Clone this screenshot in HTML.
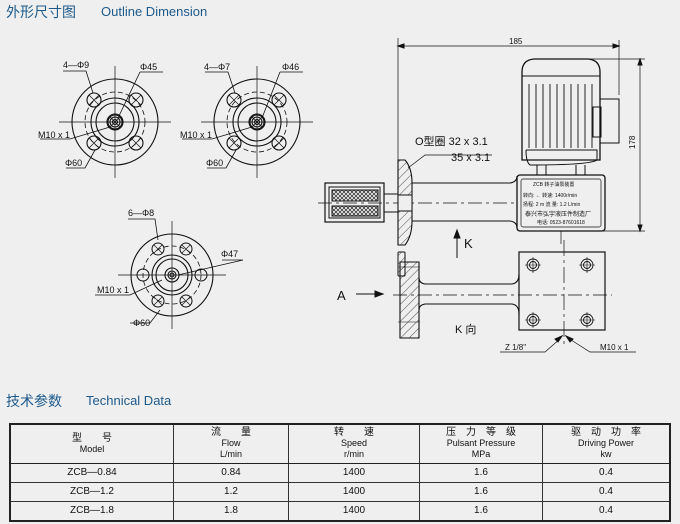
<!DOCTYPE html>
<html><head><meta charset="utf-8"><style>
html,body{margin:0;padding:0;background:#efefef;}
body{width:680px;height:524px;overflow:hidden;position:relative;font-family:"Liberation Sans","Noto Sans CJK SC",sans-serif;}
svg{position:absolute;left:0;top:0}
table{position:absolute;left:9px;top:423px;width:662px;border-collapse:collapse;font-size:10px;color:#111;text-align:center}
td{border:1px solid #333;padding:0;line-height:10px}
td.h{height:38px;border-bottom:1.5px solid #222}
tr.r td{height:18px}
table{border:2px solid #222}
</style></head><body>
<svg width="680" height="524" viewBox="0 0 680 524" font-family="Liberation Sans, Noto Sans CJK SC, sans-serif">
<defs>
<pattern id="hat" width="6" height="6" patternUnits="userSpaceOnUse" patternTransform="rotate(45)"><line x1="0" y1="0" x2="0" y2="6" stroke="#222" stroke-width="0.8"/></pattern>
<pattern id="mesh" width="4" height="4" patternUnits="userSpaceOnUse"><path d="M0 0L4 4M4 0L0 4" stroke="#222" stroke-width="0.7"/></pattern>
<g id="fl" fill="none" stroke="#111" stroke-width="1.1">
<circle r="43"/><circle r="30" stroke-dasharray="5,3" stroke-width="0.8"/>
<circle r="24"/><circle r="19"/><circle r="8"/><circle r="5"/><circle r="2.5"/>
<line x1="-56" y1="0" x2="56" y2="0" stroke-width="0.7"/><line x1="0" y1="-56" x2="0" y2="56" stroke-width="0.7"/>
<g id="h"><circle r="7"/><path d="M-5 -5L5 5M5 -5L-5 5" stroke-width="0.7"/></g>
</g>
</defs>
<text x="6" y="17" font-size="14" fill="#1d5a8c">外形尺寸图</text>
<text x="101" y="16" font-size="13" fill="#1d5a8c">Outline Dimension</text>
<text x="6" y="406" font-size="14" fill="#1d5a8c">技术参数</text>
<text x="86" y="405" font-size="13" fill="#1d5a8c">Technical Data</text>

<!-- flange 1 -->
<g transform="translate(115,122)">
<use href="#fl"/>
<g fill="none" stroke="#111" stroke-width="1.1">
<use href="#h" x="-21" y="-22"/><use href="#h" x="21" y="-22"/><use href="#h" x="-21" y="21"/><use href="#h" x="21" y="21"/></g>
</g>
<g fill="none" stroke="#111" stroke-width="0.8">
<path d="M63 71H86L93 93M140 72H163M140 72L118 118M40 139H70L110 127M66 168H85L95 150"/>
</g>
<g font-size="9" fill="#111"><text x="63" y="68">4—Φ9</text><text x="140" y="70">Φ45</text><text x="38" y="138">M10 x 1</text><text x="65" y="166">Φ60</text></g>

<!-- flange 2 -->
<g transform="translate(257,122)">
<use href="#fl"/>
<g fill="none" stroke="#111" stroke-width="1.1">
<use href="#h" x="-23" y="-22"/><use href="#h" x="22" y="-22"/><use href="#h" x="-23" y="21"/><use href="#h" x="22" y="21"/></g>
</g>
<g fill="none" stroke="#111" stroke-width="0.8">
<path d="M205 72H228L235 93M280 72H303M280 72L262 118M182 139H212L252 127M207 168H226L236 150"/>
</g>
<g font-size="9" fill="#111"><text x="204" y="70">4—Φ7</text><text x="282" y="70">Φ46</text><text x="180" y="138">M10 x 1</text><text x="206" y="166">Φ60</text></g>

<!-- flange 3 -->
<g transform="translate(172,275)" fill="none" stroke="#111" stroke-width="1.1">
<circle r="41"/><circle r="29" stroke-dasharray="5,3" stroke-width="0.8"/><circle r="20"/><circle r="16"/><circle r="7"/><circle r="4"/><circle r="2"/>
<line x1="-54" y1="0" x2="54" y2="0" stroke-width="0.7"/><line x1="0" y1="-54" x2="0" y2="54" stroke-width="0.7"/>
<g stroke-width="1"><circle cx="-29" cy="0" r="6"/><circle cx="29" cy="0" r="6"/><circle cx="-14" cy="-26" r="6"/><circle cx="14" cy="-26" r="6"/><circle cx="-14" cy="26" r="6"/><circle cx="14" cy="26" r="6"/>
<path d="M-18 -30L-10 -22M-10 -30L-18 -22M10 -30L18 -22M18 -30L10 -22M-18 22L-10 30M-10 22L-18 30M10 22L18 30M18 22L10 30" stroke-width="0.7"/></g>
</g>
<g fill="none" stroke="#111" stroke-width="0.8"><path d="M128 219H155L158 240M222 260H243L178 275M95 295H130L162 280M130 323H150L160 310"/></g>
<g font-size="9" fill="#111"><text x="128" y="216">6—Φ8</text><text x="221" y="257">Φ47</text><text x="97" y="293">M10 x 1</text><text x="133" y="326">Φ60</text></g>

<!-- main side view -->
<g fill="none" stroke="#111" stroke-width="1">
<line x1="398" y1="38" x2="398" y2="165" stroke-width="0.7"/>
<line x1="619" y1="40" x2="619" y2="95" stroke-width="0.7"/>
<line x1="398" y1="46" x2="619" y2="46" stroke-width="0.7"/>
<path d="M398 46l6 -2v4zM619 46l-6 -2v4z" fill="#111"/>
<line x1="575" y1="59" x2="645" y2="59" stroke-width="0.7"/>
<line x1="600" y1="231" x2="645" y2="231" stroke-width="0.7"/>
<line x1="640" y1="59" x2="640" y2="231" stroke-width="0.7"/>
<path d="M640 59l-2 6h4zM640 231l-2 -6h4z" fill="#111"/>
<!-- motor -->
<path d="M522 160V72Q522 60 534 59H588Q600 60 600 72V160Z" stroke-width="1.3"/>
<line x1="522" y1="76" x2="600" y2="76"/>
<g stroke-width="0.9"><path d="M529 84V148M536 84V148M543 84V148M550 84V148M557 84V148M564 84V148M571 84V148M578 84V148M585 84V148M592 84V148"/></g>
<path d="M526 150H597V160Q590 165 530 165Q526 162 526 150"/>
<rect x="600" y="99" width="19" height="44"/><rect x="593" y="107" width="8" height="30"/>
<path d="M537 165V175M585 165V175M546 165V175M576 165V175"/>
<!-- nameplate -->
<rect x="517" y="175" width="88" height="56" rx="3" stroke-width="1.3"/>
<rect x="521" y="179" width="80" height="48" rx="2" stroke-width="0.7"/>
<!-- pipe -->
<path d="M412 183H510Q517 182 517 176M412 221H510Q517 222 517 228" stroke-width="1.1"/>
<line x1="318" y1="203" x2="517" y2="203" stroke-dasharray="14,4,3,4" stroke-width="0.7"/>
<line x1="561" y1="231" x2="561" y2="244" stroke-width="0.7"/>
<!-- flange section -->
<path d="M398 160H405Q412 168 412 183V221Q412 236 405 245H398Z" fill="url(#hat)" stroke-width="1.1"/>
<rect x="398" y="195" width="14" height="16" fill="#efefef"/>
<!-- fitting -->
<rect x="384" y="194" width="14" height="18"/>
<!-- solenoid -->
<rect x="325" y="183" width="59" height="39" stroke-width="1.2"/>
<rect x="329" y="187" width="51" height="31"/>
<rect x="332" y="190" width="46" height="11" fill="url(#mesh)"/>
<rect x="332" y="206" width="46" height="10" fill="url(#mesh)"/>
<!-- leader O ring -->
<path d="M408 168L425 155H492" stroke-width="0.7"/>
<!-- K arrow -->
<path d="M457 232V258" stroke-width="1"/><path d="M457 230l-3 8h6z" fill="#111"/>
<!-- bottom view -->
<rect x="398" y="252" width="7" height="24" fill="url(#hat)" rx="1"/>
<path d="M400 262H419V338H400Z" fill="url(#hat)" stroke-width="1.1"/>
<path d="M398 267H420M398 322H420" stroke-width="0.6"/>
<path d="M419 278Q419 283 425 284H512Q519 283 519 274M419 310Q419 305 425 304H512Q519 305 519 314" stroke-width="1.1"/>
<line x1="393" y1="295" x2="612" y2="295" stroke-dasharray="14,4,3,4" stroke-width="0.7"/>
<rect x="519" y="252" width="86" height="78" stroke-width="1.2"/>
<line x1="564" y1="240" x2="564" y2="348" stroke-dasharray="16,4,3,4" stroke-width="0.7"/>
<g stroke-width="0.9"><circle cx="533" cy="265" r="6"/><circle cx="533" cy="265" r="3.5"/><circle cx="587" cy="265" r="6"/><circle cx="587" cy="265" r="3.5"/><circle cx="533" cy="320" r="6"/><circle cx="533" cy="320" r="3.5"/><circle cx="587" cy="320" r="6"/><circle cx="587" cy="320" r="3.5"/>
<path d="M525 265H541M533 257V273M579 265H595M587 257V273M525 320H541M533 312V328M579 320H595M587 312V328" stroke-width="0.6"/></g>
<path d="M356 294H380" stroke-width="1"/><path d="M383 294l-8 -3v6z" fill="#111"/>
<path d="M500 352H545L561 338M636 352H590L568 338" stroke-width="0.7"/>
<path d="M562 336l-7 3l3 3zM566 336l7 3l-3 3z" fill="#111"/>
</g>
<g fill="#111">
<text x="509" y="44" font-size="8">185</text>
<text x="635" y="149" font-size="8" transform="rotate(-90 635 149)">178</text>
<text x="415" y="145" font-size="11">O型圈  32 x 3.1</text>
<text x="451" y="161" font-size="11">35 x 3.1</text>
<text x="464" y="248" font-size="13">K</text>
<text x="337" y="300" font-size="13">A</text>
<text x="455" y="333" font-size="11">K  向</text>
<text x="505" y="350" font-size="8">Z 1/8"</text>
<text x="600" y="350" font-size="8">M10 x 1</text>
<g font-size="5"><text x="533" y="186">ZCB 转子油泵装置</text><text x="523" y="197">转向: ←  转速: 1400r/min</text><text x="523" y="206">扬程: 2 m  流 量: 1.2 L/min</text><text x="525" y="216" font-size="6">泰兴市弘宇液压件制造厂</text><text x="537" y="224">电话: 0523-87601618</text></g>
</g>
</svg>
<table>
<tr><td class="h" style="width:162px">型　　号<br><span style="font-size:9px">Model</span></td><td class="h" style="width:114px">流　　量<br><span style="font-size:9px">Flow<br>L/min</span></td><td class="h" style="width:130px">转　　速<br><span style="font-size:9px">Speed<br>r/min</span></td><td class="h" style="width:122px">压　力　等　级<br><span style="font-size:9px">Pulsant Pressure<br>MPa</span></td><td class="h">驱　动　功　率<br><span style="font-size:9px">Driving Power<br>kw</span></td></tr>
<tr class="r"><td>ZCB—0.84</td><td>0.84</td><td>1400</td><td>1.6</td><td>0.4</td></tr>
<tr class="r"><td>ZCB—1.2</td><td>1.2</td><td>1400</td><td>1.6</td><td>0.4</td></tr>
<tr class="r"><td>ZCB—1.8</td><td>1.8</td><td>1400</td><td>1.6</td><td>0.4</td></tr>
</table>
</body></html>
